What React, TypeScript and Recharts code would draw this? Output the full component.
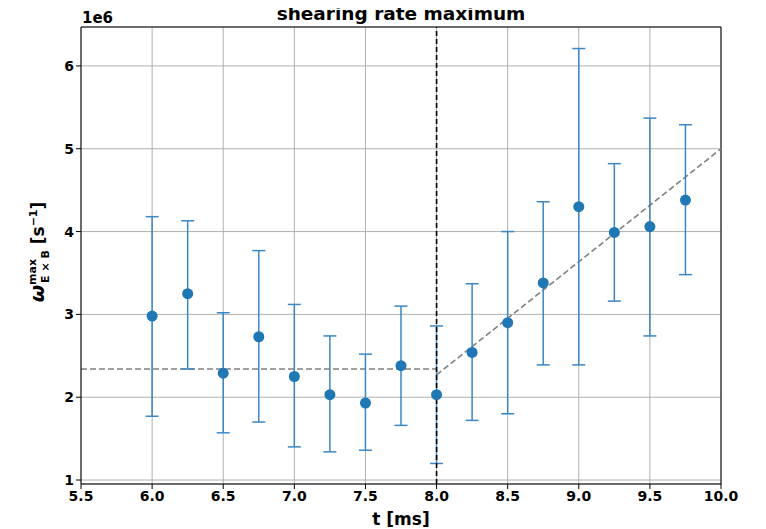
import {
  ComposedChart,
  Scatter,
  ErrorBar,
  XAxis,
  YAxis,
  CartesianGrid,
  ReferenceLine,
} from "recharts";

// values in units of 1e6 s^-1
const times = [6.0, 6.25, 6.5, 6.75, 7.0, 7.25, 7.5, 7.75, 8.0, 8.25, 8.5, 8.75, 9.0, 9.25, 9.5, 9.75];
const omegaMax = [2.98, 3.25, 2.29, 2.73, 2.25, 2.03, 1.93, 2.38, 2.03, 2.54, 2.9, 3.38, 4.3, 3.99, 4.06, 4.38];
const errLow = [1.77, 2.34, 1.57, 1.7, 1.4, 1.34, 1.36, 1.66, 1.2, 1.72, 1.8, 2.39, 2.39, 3.16, 2.74, 3.48];
const errHigh = [4.18, 4.13, 3.02, 3.77, 3.12, 2.74, 2.52, 3.1, 2.86, 3.37, 4.0, 4.36, 6.21, 4.82, 5.37, 5.29];

const xTicks = [5.5, 6.0, 6.5, 7.0, 7.5, 8.0, 8.5, 9.0, 9.5, 10.0];
const yTicks = [1, 2, 3, 4, 5, 6];
const xDomain = [5.5, 10.0];
const yDomain = [0.952, 6.47];

const flatFit = [
  { x: 5.5, y: 2.34 },
  { x: 8.0, y: 2.34 },
];
const riseFit = [
  { x: 8.0, y: 2.27 },
  { x: 10.0, y: 5.0 },
];
const splitTime = 8.0;

const data = times.map((t, i) => ({
  t,
  w: omegaMax[i],
  err: [omegaMax[i] - errLow[i], errHigh[i] - omegaMax[i]],
}));

const font = "'DejaVu Sans', sans-serif";
const tickStyle = { fontFamily: font, fontWeight: 700, fontSize: 14, fill: "#000" };

const Dot = (props: any) => <circle cx={props.cx} cy={props.cy} r={5.5} fill="#1f77b4" />;

export default function App() {
  return (
    <div style={{ position: "relative", width: 758, height: 521 }}>
      <ComposedChart
        width={758}
        height={521}
        data={data}
        margin={{ top: 19, right: 45, bottom: 15, left: 28 }}
      >
        <CartesianGrid stroke="#b0b0b0" strokeWidth={1} />
        <XAxis
          dataKey="t"
          type="number"
          domain={xDomain}
          ticks={xTicks}
          allowDataOverflow
          tickFormatter={(v: number) => v.toFixed(1)}
          tick={tickStyle}
          tickSize={5}
          tickLine={{ stroke: "#000" }}
          axisLine={{ stroke: "#000" }}
          height={30}
          interval={0}
        />
        <YAxis
          type="number"
          domain={yDomain}
          ticks={yTicks}
          allowDataOverflow
          tick={tickStyle}
          tickSize={5}
          tickLine={{ stroke: "#000" }}
          axisLine={{ stroke: "#000" }}
          width={45}
          interval={0}
        />
        <ReferenceLine y={yDomain[1]} stroke="#000" strokeWidth={1} />
        <ReferenceLine x={xDomain[1]} stroke="#000" strokeWidth={1} />
        <ReferenceLine segment={flatFit} stroke="#808080" strokeWidth={1.6} strokeDasharray="6 3" />
        <ReferenceLine segment={riseFit} stroke="#808080" strokeWidth={1.6} strokeDasharray="6 3" />
        <Scatter dataKey="w" shape={Dot} isAnimationActive={false}>
          <ErrorBar dataKey="err" direction="y" width={6.5} stroke="#3b87c5" strokeWidth={1.5} />
        </Scatter>
        <ReferenceLine x={splitTime} stroke="#000" strokeWidth={1.6} strokeDasharray="5 3" />
      </ComposedChart>
      <svg
        width={766}
        height={529}
        style={{ position: "absolute", left: -8, top: -8, pointerEvents: "none" }}
      >
        <text x={401} y={20} textAnchor="middle" fontFamily={font} fontWeight={700} fontSize={18.5}>
          shearing rate maximum
        </text>
        <text x={82} y={23} fontFamily={font} fontWeight={700} fontSize={15}>
          1e6
        </text>
        <text x={401} y={525} textAnchor="middle" fontFamily={font} fontWeight={700} fontSize={17}>
          t [ms]
        </text>
        <g transform="translate(44,252) rotate(-90)">
          <text x={0} y={0} textAnchor="middle" fontFamily={font} fontWeight={700} fontSize={17}>
            <tspan fontStyle="italic" fontSize={20}>ω</tspan>
            <tspan fontSize={11} dy={-8}>max</tspan>
            <tspan fontSize={11} dx={-24} dy={13}>E × B</tspan>
            <tspan dy={-5}> [s</tspan>
            <tspan fontSize={11} dy={-7}>−1</tspan>
            <tspan dy={7}>]</tspan>
          </text>
        </g>
      </svg>
    </div>
  );
}
